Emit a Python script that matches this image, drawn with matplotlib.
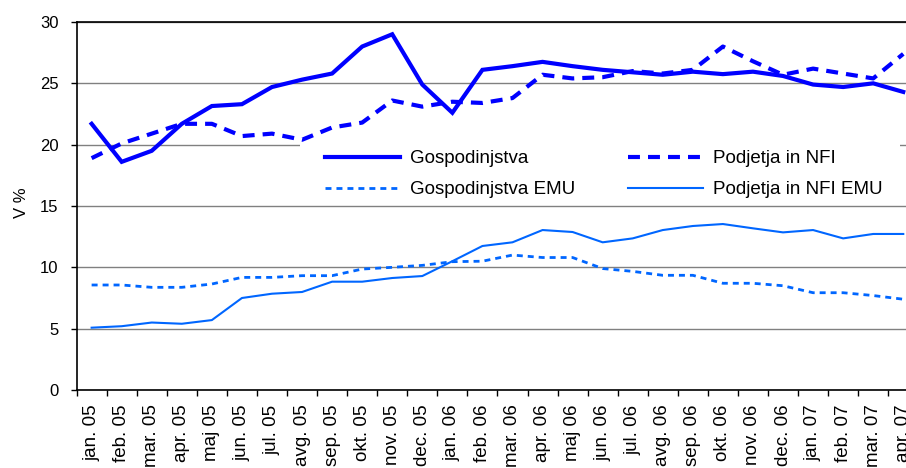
import numpy as np
import matplotlib
matplotlib.use("Agg")
import matplotlib.pyplot as plt
from matplotlib.patches import Rectangle

plt.rcParams['font.family'] = ['Liberation Sans', 'DejaVu Sans']
plt.rcParams['lines.scale_dashes'] = False

months = ["jan. 05", "feb. 05", "mar. 05", "apr. 05", "maj 05", "jun. 05", "jul. 05",
          "avg. 05", "sep. 05", "okt. 05", "nov. 05", "dec. 05",
          "jan. 06", "feb. 06", "mar. 06", "apr. 06", "maj 06", "jun. 06", "jul. 06",
          "avg. 06", "sep. 06", "okt. 06", "nov. 06", "dec. 06",
          "jan. 07", "feb. 07", "mar. 07", "apr. 07"]

gospodinjstva = [21.7, 18.6, 19.5, 21.7, 23.15, 23.3, 24.7, 25.3, 25.8, 28.0, 29.0, 24.9,
                 22.6, 26.1, 26.4, 26.75, 26.4, 26.1, 25.9, 25.7, 25.95, 25.75, 25.95, 25.6,
                 24.9, 24.7, 25.0, 24.3]
podjetja = [18.9, 20.1, 20.9, 21.7, 21.7, 20.7, 20.9, 20.4, 21.4, 21.8, 23.6, 23.1,
            23.5, 23.4, 23.8, 25.7, 25.4, 25.5, 26.0, 25.8, 26.1, 28.0, 26.8, 25.7,
            26.2, 25.8, 25.4, 27.4]
gospodinjstva_emu = [8.56, 8.56, 8.37, 8.37, 8.64, 9.18, 9.18, 9.32, 9.32, 9.86, 10.0, 10.16,
                     10.46, 10.5, 11.0, 10.8, 10.8, 9.9, 9.67, 9.35, 9.35, 8.7, 8.7, 8.5,
                     7.93, 7.93, 7.7, 7.4]
podjetja_emu = [5.08, 5.2, 5.5, 5.4, 5.7, 7.5, 7.85, 7.99, 8.83, 8.83, 9.13, 9.29,
                10.5, 11.74, 12.04, 13.04, 12.88, 12.04, 12.36, 13.04, 13.37, 13.53, 13.18, 12.85,
                13.04, 12.36, 12.72, 12.72]

dark_blue = "#0000FF"
light_blue = "#0066FF"

W, H = 906, 468
fig = plt.figure(figsize=(W / 100, H / 100), dpi=100)
x0, x1 = 76.6, 918.3
y0, y1 = 22.0, 390.0
ax = fig.add_axes([x0 / W, 1 - y1 / H, (x1 - x0) / W, (y1 - y0) / H])

x = np.arange(len(months))

ax.plot(x, podjetja_emu, color=light_blue, lw=1.5, zorder=3,
        label="Podjetja in NFI EMU")
ax.plot(x, gospodinjstva_emu, color=light_blue, lw=2.0, zorder=3,
        dashes=(4.3, 3.6), dash_capstyle='butt', label="Gospodinjstva EMU")
ax.plot(x, podjetja, color=dark_blue, lw=3.0, zorder=4,
        dashes=(8.6, 5.8), dash_capstyle='butt', label="Podjetja in NFI")
ax.plot(x, gospodinjstva, color=dark_blue, lw=3.0, zorder=5,
        solid_joinstyle='miter', label="Gospodinjstva")

ax.set_xlim(-0.5, len(months) - 0.5)
ax.set_ylim(0, 30)
ax.set_yticks(np.arange(0, 31, 5))
ax.yaxis.grid(True, color="#808080", lw=1.0)
ax.set_axisbelow(True)

ax.set_xticks(x)
ax.set_xticklabels(months, rotation=90, fontsize=13.5)
ax.set_xticks(np.arange(-0.5, len(months), 1), minor=True)
ax.tick_params(axis='x', which='major', length=0, pad=10.5)
ax.tick_params(axis='x', which='minor', length=4, width=1, direction='out', color='black')
ax.tick_params(axis='y', length=4.5, width=1, direction='out', pad=8.5, labelsize=12)

for s in ax.spines.values():
    s.set_color('black')
    s.set_linewidth(1.2)

ax.set_ylabel("V %", fontsize=12)
ax.yaxis.set_label_coords(-0.057, 0.508)

# white backing behind the legend block
ax.add_patch(Rectangle((0.2654, 0.516), 0.713, 0.161, transform=ax.transAxes,
                       facecolor='white', edgecolor='none', zorder=1.5))

handles, labels = ax.get_legend_handles_labels()
order = [3, 1, 2, 0]
leg = ax.legend([handles[i] for i in order], [labels[i] for i in order],
                ncol=2, loc='upper left', bbox_to_anchor=(0.295, 0.652),
                frameon=False, fontsize=13.5, handlelength=4.0, handletextpad=0.53,
                columnspacing=2.8, labelspacing=0.75, borderpad=0, borderaxespad=0)
leg.set_zorder(6)

fig.savefig("out.png", dpi=100)
